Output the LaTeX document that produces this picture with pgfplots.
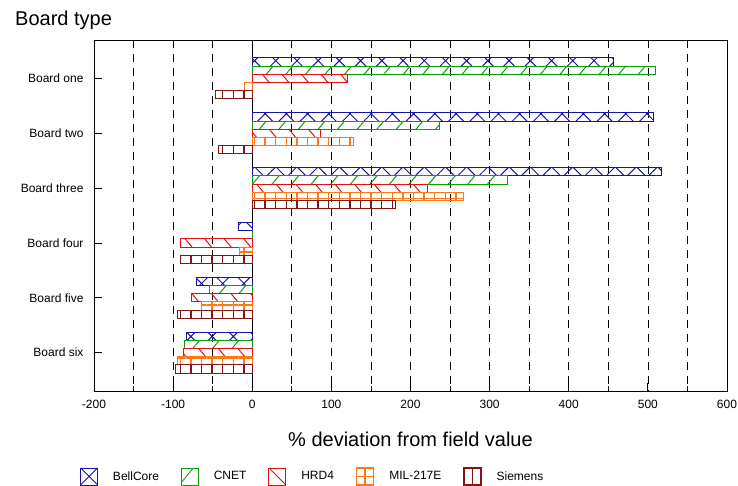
\documentclass[border=0pt]{standalone}
\usepackage{pgfplots}
\pgfplotsset{compat=1.18}
\usepackage{pgfplotstable}
\usepackage{fontspec}
\setmainfont{Liberation Sans}
\usetikzlibrary{patterns.meta}
\definecolor{cbell}{RGB}{20,20,170}
\definecolor{ccnet}{RGB}{10,160,10}
\definecolor{chrd}{RGB}{225,15,15}
\definecolor{cmil}{RGB}{255,120,20}
\definecolor{csie}{RGB}{130,20,20}
\pgfplotstableread{
y bell cnet hrd mil sie
1 456 510 120 -10 -46
2 507 236 86 128 -43
3 517 322 221 267 181
4 -18 0 -91 -16 -91
5 -70 -54 -77 -64 -95
6 -83 -86 -87 -95 -97
}\data
\begin{document}
\begin{tikzpicture}[font=\fontsize{12}{14}\selectfont]
\begin{axis}[
  name=ax,
  scale only axis,
  width=633pt, height=351pt,
  xmin=-200, xmax=600,
  ymin=0.3, ymax=6.7,
  y dir=reverse,
  xtick={-200,-100,...,600},
  minor xtick={-150,-50,...,550},
  ytick={1,...,6},
  yticklabels={Board one,Board two,Board three,Board four,Board five,Board six},
  xtick pos=bottom, ytick pos=left,
  tick align=inside,
  major tick length=8pt, minor tick length=5pt,
  yticklabel style={font=\fontsize{12}{14}\selectfont, xshift=-7pt},
  xticklabel style={font=\fontsize{12}{14}\selectfont, yshift=-6pt},
  /pgf/number format/assume math mode=true,
  axis line style={line width=0.8pt},
  every tick/.style={black, line width=0.8pt},
  legend columns=5,
  legend style={draw=none, fill=none, inner sep=0pt,
    at={(axis description cs:0,0)}, anchor=north west,
    xshift=-14pt, yshift=-76pt,
    font=\fontsize{12}{14}\selectfont,
    nodes={inner sep=2pt},
    /tikz/every odd column/.style={column sep=13pt},
    /tikz/every even column/.style={column sep=20pt}},
  clip=false,
]
\pgfplotsinvokeforeach{-150,-100,-50,50,100,150,200,250,300,350,400,450,500,550}{
  \draw[black, line width=0.7pt, dash pattern=on 8pt off 6pt] (axis cs:#1,0.3) -- (axis cs:#1,6.7);
}
\draw[black, line width=0.8pt] (axis cs:0,0.3) -- (axis cs:0,6.7);

\addplot[forget plot, xbar, bar width=0.15, bar shift=-0.3, draw=cbell, line width=0.8pt,
  pattern={Hatch[angle=45,distance=15pt,line width=1pt]}, pattern color=cbell]
  table[x=bell,y=y]{\data};
\addplot[forget plot, xbar, bar width=0.15, bar shift=-0.15, draw=ccnet, line width=0.8pt,
  pattern={Lines[angle=50,distance=15pt,line width=1pt]}, pattern color=ccnet]
  table[x=cnet,y=y]{\data};
\addplot[forget plot, xbar, bar width=0.15, bar shift=0, draw=chrd, line width=0.8pt,
  pattern={Lines[angle=-50,distance=15pt,line width=1pt]}, pattern color=chrd]
  table[x=hrd,y=y]{\data};
\addplot[forget plot, xbar, bar width=0.15, bar shift=0.15, draw=cmil, line width=1pt,
  pattern={Hatch[angle=0,distance=10.6pt,line width=1.4pt]}, pattern color=cmil]
  table[x=mil,y=y]{\data};
\addplot[forget plot, xbar, bar width=0.15, bar shift=0.3, draw=csie, line width=1pt,
  pattern={Lines[angle=90,distance=10.6pt,line width=1.4pt]}, pattern color=csie]
  table[x=sie,y=y]{\data};

\addlegendimage{legend image code/.code={\draw[cbell,line width=0.8pt] (0pt,-8.5pt) rectangle (17pt,8.5pt);
    \draw[cbell,line width=0.8pt] (0pt,-8.5pt)--(17pt,8.5pt) (0pt,8.5pt)--(17pt,-8.5pt);}}
\addlegendentry{BellCore}
\addlegendimage{legend image code/.code={\draw[ccnet,line width=0.8pt] (0pt,-8.5pt) rectangle (17pt,8.5pt);
    \draw[ccnet,line width=0.8pt] (0pt,-6pt)--(12pt,8.5pt);}}
\addlegendentry{CNET}
\addlegendimage{legend image code/.code={\draw[chrd,line width=0.8pt] (0pt,-8.5pt) rectangle (17pt,8.5pt);
    \draw[chrd,line width=0.8pt] (0pt,8.5pt)--(17pt,-8.5pt);}}
\addlegendentry{HRD4}
\addlegendimage{legend image code/.code={\draw[cmil,line width=1.4pt] (0pt,-8.5pt) rectangle (17pt,8.5pt);
    \draw[cmil,line width=1.4pt] (8.5pt,-8.5pt)--(8.5pt,8.5pt) (0pt,0pt)--(17pt,0pt);}}
\addlegendentry{MIL-217E}
\addlegendimage{legend image code/.code={\draw[csie,line width=1.2pt] (0pt,-8.5pt) rectangle (17pt,8.5pt);
    \draw[csie,line width=1.2pt] (8.5pt,-8.5pt)--(8.5pt,8.5pt);}}
\addlegendentry{Siemens}
\end{axis}
\node[anchor=base west, font=\fontsize{20}{24}\selectfont, inner sep=0pt]
  at ([xshift=-79pt,yshift=15pt]ax.north west) {Board type};
\node[anchor=base, font=\fontsize{20}{24}\selectfont, inner sep=0pt]
  at ([yshift=-55pt]ax.south) {\% deviation from field value};
\pgfresetboundingbox
\path (ax.south west) ++(-94pt,-94pt) rectangle ++(738pt,485pt);
\end{tikzpicture}
\end{document}
